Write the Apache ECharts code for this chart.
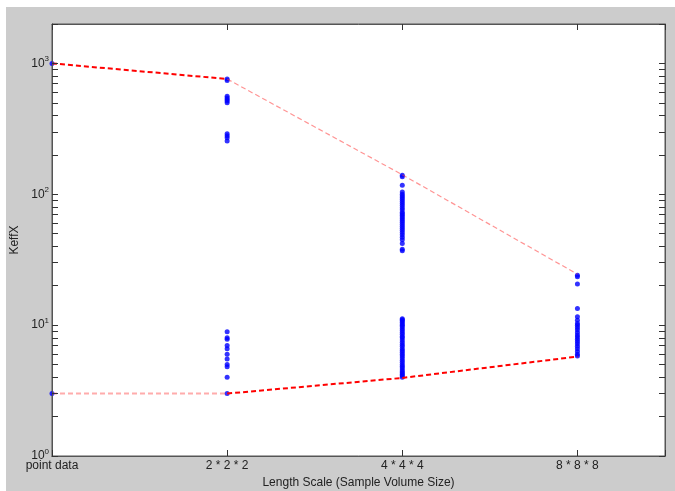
<!DOCTYPE html>
<html>
<head>
<meta charset="utf-8">
<script src="https://cdn.jsdelivr.net/npm/echarts@6/dist/echarts.min.js"></script>
<style>
  html, body { margin: 0; padding: 0; background: #ffffff; }
  #chart {
    position: absolute;
    left: 6px;
    top: 7px;
    width: 669px;
    height: 484px;
    background: #cccccc;
  }
</style>
</head>
<body>
<div id="chart"></div>
<script>
// categories on the x axis (sample volume size)
const categories = ['point data', '2 * 2 * 2', '4 * 4 * 4', '8 * 8 * 8'];

// envelope lines (max / min per scale)
const upperEnvelope = [1000, 760, 141, 24.5];
const lowerEnvelope = [3, 3, 3.95, 5.75];

// KeffX samples per scale
const pointDataValues = [1000, 3];
const scale2Values = [760, 740, 560, 545, 530, 515, 500, 290, 280, 270, 255,
  8.9, 8.0, 7.8, 7.0, 6.6, 6.0, 5.5, 5.0, 4.8, 4.0, 3.0];
const scale4Values = [140, 136, 117, 104, 100, 97, 94, 91, 88, 85, 82, 79, 76, 73, 71, 69,
  67, 65, 63, 61, 59, 57, 55, 53, 51, 49, 47, 45, 42, 38, 37,
  11.2, 11.0, 10.8, 10.5, 10.2, 10.0, 9.7, 9.4, 9.1, 8.8, 8.5, 8.2, 8.0, 7.7, 7.4, 7.1,
  6.9, 6.6, 6.4, 6.2, 6.0, 5.8, 5.6, 5.4, 5.2, 5.0, 4.85, 4.7, 4.55, 4.4, 4.3, 4.2, 4.1, 4.0];
const scale8Values = [24, 23.4, 20.6, 13.4, 11.6, 10.9, 10.3, 10.0, 9.6, 9.2, 8.8, 8.4,
  8.1, 7.8, 7.5, 7.2, 6.9, 6.6, 6.3, 6.0, 5.8];

// y tick positions (log decades + minor ticks)
const yMajorTicks = [1, 10, 100, 1000];
const yMinorTicks = [1, 2, 3, 4, 5, 6, 7, 8, 9, 10, 20, 30, 40, 50, 60, 70, 80, 90,
  100, 200, 300, 400, 500, 600, 700, 800, 900, 1000, 2000];

const sampleGroups = [pointDataValues, scale2Values, scale4Values, scale8Values];
const scatterData = [];
sampleGroups.forEach((vals, i) => {
  vals.forEach(v => scatterData.push([i, v]));
});

const seg = (arr, a, b) => [[a, arr[a]], [b, arr[b]]];

const chart = echarts.init(document.getElementById('chart'));

const axisColor = '#555555';
const tickColor = '#333333';
const labelColor = '#222222';
const fontFamily = 'Liberation Sans, Arial, sans-serif';

// fresh objects per axis; tick-only axes carry the inner ticks
const xAxisCommon = (withTicks) => ({
  type: 'value',
  min: 0,
  max: 3.5,
  interval: 1,
  z: 4,
  axisLine: { show: true, onZero: false, lineStyle: { color: axisColor, width: 1 } },
  axisTick: { show: withTicks, inside: true, length: 6, lineStyle: { color: tickColor, width: 1 } },
  splitLine: { show: false }
});

const yAxisCommon = (withTicks, onZero) => ({
  type: 'log',
  logBase: 10,
  min: 1,
  max: 2000,
  z: 4,
  axisLine: { show: true, onZero: onZero, lineStyle: { color: axisColor, width: 1 } },
  axisTick: {
    show: withTicks,
    inside: true,
    length: 6,
    customValues: yMinorTicks.slice(),
    lineStyle: { color: tickColor, width: 1 }
  },
  splitLine: { show: false }
});

const lineSeries = (data, color, width) => ({
  type: 'line',
  data: data,
  symbol: 'none',
  silent: true,
  lineStyle: { color: color, width: width, type: [5, 3] },
  z: 3
});

const option = {
  animation: false,
  backgroundColor: '#cccccc',
  grid: {
    left: 46,
    top: 17,
    right: 10,
    bottom: 35,
    z: 0,
    outerBoundsMode: 'none',
    containLabel: false,
    show: true,
    backgroundColor: '#ffffff',
    borderColor: axisColor,
    borderWidth: 1
  },
  xAxis: [
    Object.assign(xAxisCommon(false), {
      position: 'bottom',
      name: 'Length Scale (Sample Volume Size)',
      nameLocation: 'middle',
      nameGap: 19,
      nameTextStyle: { color: labelColor, fontSize: 12, fontFamily: fontFamily },
      axisLabel: {
        color: labelColor,
        fontSize: 12,
        fontFamily: fontFamily,
        margin: 4,
        formatter: v => categories[v] || ''
      }
    }),
    Object.assign(xAxisCommon(true), {
      position: 'top',
      axisLabel: { show: false }
    }),
    Object.assign(xAxisCommon(true), {
      position: 'bottom',
      axisLabel: { show: false }
    })
  ],
  yAxis: [
    Object.assign(yAxisCommon(false, false), {
      position: 'left',
      name: 'KeffX',
      nameLocation: 'middle',
      nameGap: 14,
      nameRotate: 90,
      nameTextStyle: { color: labelColor, fontSize: 12, fontFamily: fontFamily },
      axisLabel: {
        color: labelColor,
        margin: 3,
        customValues: yMajorTicks,
        formatter: v => '{b|10}{s|' + Math.round(Math.log10(v)) + '}',
        rich: {
          b: { fontSize: 12, fontFamily: fontFamily, color: labelColor },
          s: { fontSize: 8, fontFamily: fontFamily, color: labelColor, padding: [0, 0, 9, 0] }
        }
      }
    }),
    Object.assign(yAxisCommon(true, false), {
      position: 'right',
      axisLabel: { show: false }
    }),
    // left tick axis sits on x = 0, which is the left edge of the plot
    Object.assign(yAxisCommon(true, true), {
      position: 'left',
      axisLabel: { show: false }
    })
  ],
  series: [
    lineSeries(seg(upperEnvelope, 0, 1), '#ff0000', 2),
    lineSeries(seg(upperEnvelope, 1, 2), 'rgba(255,60,60,0.55)', 1.2),
    lineSeries(seg(upperEnvelope, 2, 3), 'rgba(255,60,60,0.55)', 1.2),
    lineSeries(seg(lowerEnvelope, 0, 1), 'rgba(255,90,90,0.5)', 2),
    lineSeries(seg(lowerEnvelope, 1, 2), '#ff0000', 2),
    lineSeries(seg(lowerEnvelope, 2, 3), '#ff0000', 2),
    {
      type: 'scatter',
      data: scatterData,
      symbol: 'circle',
      symbolSize: 5,
      itemStyle: { color: '#0000ff' },
      z: 2
    }
  ]
};

chart.setOption(option);
</script>
</body>
</html>
